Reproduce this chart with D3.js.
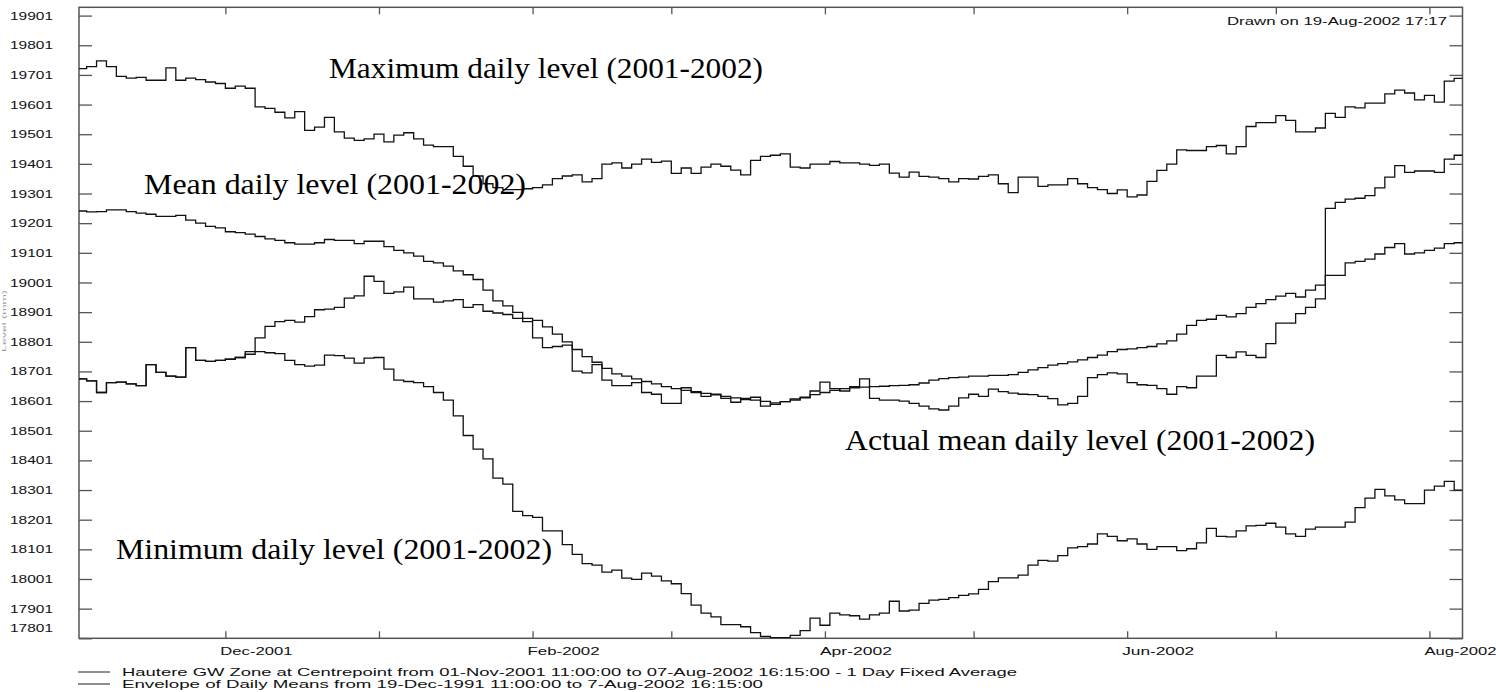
<!DOCTYPE html>
<html>
<head>
<meta charset="utf-8">
<script src="https://cdn.jsdelivr.net/npm/d3@7"></script>
<style>
  body { margin: 0; background: #fff; }
  svg { display: block; }
</style>
</head>
<body>
<div id="chart"></div>
<script>
// daily level readings, sampled every 2 days from 1-Nov-2001
const seriesStart = new Date(2001, 10, 1);
const stepDays = 2;

const maxLevel = [19722,19729,19748,19729,19696,19690,19693,19683,19683,19725,
  19683,19690,19685,19677,19672,19656,19663,19656,19593,19588,
  19575,19556,19577,19514,19525,19558,19509,19488,19480,19485,
  19501,19475,19498,19506,19485,19464,
  19459,19459,19426,19393,19360,19334,19321,19314,19314,19317,
  19321,19330,19351,19360,19364,19340,19351,19400,19404,19387,
  19400,19417,19406,19410,19369,19387,19369,19390,19400,19393,
  19380,19364,19413,19426,
  19430,19435,19390,19387,19400,19400,19409,19404,19404,19400,
  19396,19400,19370,19356,19373,19359,19356,19351,19340,19351,
  19350,19359,19364,19334,19304,19356,19356,19325,19330,19330,
  19351,19334,19321,19314,19301,
  19313,19290,19296,19342,19379,19400,19448,19446,19446,19459,
  19463,19435,19459,19527,19540,19540,19564,19548,19509,19509,
  19522,19571,19558,19593,19590,19606,19606,19637,19650,19640,
  19617,19632,19609,19680,19689];

const meanLevel = [19242,19239,19240,19246,19246,19240,19235,19231,19224,19224,
  19227,19211,19201,19190,19185,19172,19169,19164,19156,19148,
  19143,19135,19130,19130,19135,19146,19143,19143,19132,19140,
  19140,19122,19109,19101,19090,19072,
  19067,19056,19040,19027,19011,18975,18939,18922,18900,18880,
  18873,18851,18827,18801,18775,18751,18732,18711,18693,18685,
  18676,18667,18659,18650,18643,18637,18633,18627,18622,18617,
  18612,18606,18604,18600,
  18590,18599,18604,18614,18623,18630,18637,18643,18646,18648,
  18650,18651,18653,18654,18656,18662,18672,18677,18680,18682,
  18685,18685,18688,18688,18690,18698,18706,18714,18722,18727,
  18733,18740,18748,18756,18768,
  18775,18777,18781,18785,18794,18804,18827,18856,18873,18877,
  18890,18885,18896,18917,18930,18943,18955,18964,18952,18975,
  18992,19025,19025,19067,19072,19080,19097,19119,19132,19097,
  19101,19109,19117,19132,19135];

const actualLevel = [18676,18669,18630,18663,18665,18659,18653,18724,18698,18685,
  18682,18781,18738,18735,18738,18742,18748,18768,18814,18853,
  18869,18873,18867,18886,18909,18911,18917,18948,18956,19022,
  19005,18964,18969,18985,18946,18946,
  18935,18939,18943,18917,18926,18904,18898,18893,18880,18869,
  18814,18781,18785,18790,18702,18696,18724,18672,18653,18653,
  18663,18630,18624,18593,18593,18646,18630,18617,18624,18610,
  18597,18610,18614,18584,
  18595,18599,18608,18612,18635,18665,18643,18635,18650,18676,
  18610,18604,18604,18601,18593,18584,18575,18571,18584,18612,
  18624,18617,18641,18633,18628,18624,18623,18617,18609,18588,
  18593,18617,18680,18690,18696,
  18693,18663,18656,18654,18643,18624,18650,18646,18685,18685,
  18755,18748,18767,18755,18748,18795,18864,18864,18896,18917,
  18946,19251,19271,19282,19285,19294,19320,19356,19395,19372,
  19377,19377,19372,19417,19430];

const minLevel = [18676,18669,18630,18663,18665,18659,18653,18724,18698,18685,
  18682,18781,18738,18735,18738,18742,18748,18759,18768,18764,
  18761,18738,18724,18719,18722,18756,18754,18746,18729,18746,
  18748,18709,18672,18667,18663,18650,
  18630,18604,18551,18485,18439,18406,18341,18321,18229,18215,
  18209,18163,18163,18117,18084,18053,18048,18024,18031,18004,
  18000,18021,18011,17995,17985,17952,17913,17886,17873,17847,
  17847,17840,17820,17807,
  17803,17803,17811,17827,17869,17845,17886,17880,17877,17866,
  17880,17886,17926,17893,17896,17919,17930,17932,17938,17946,
  17951,17966,17992,18005,18005,18014,18048,18064,18061,18080,
  18106,18110,18119,18153,18145,
  18130,18136,18119,18101,18110,18110,18097,18103,18123,18172,
  18145,18143,18163,18180,18182,18189,18176,18153,18145,18169,
  18176,18176,18176,18193,18242,18274,18303,18281,18268,18255,
  18255,18301,18314,18330,18301];

const yTicks = [17801,17901,18001,18101,18201,18301,18401,18501,18601,18701,18801,
  18901,19001,19101,19201,19301,19401,19501,19601,19701,19801,19901];
const monthTicks = ["2001-12-01","2002-01-01","2002-02-01","2002-03-01","2002-04-01",
  "2002-05-01","2002-06-01","2002-07-01","2002-08-01"];
const monthLabels = ["Dec-2001","Feb-2002","Apr-2002","Jun-2002","Aug-2002"];

const annotations = [
  {text: "Maximum daily level (2001-2002)", x: 329, y: 78, w: 434},
  {text: "Mean daily level (2001-2002)", x: 144, y: 194, w: 382},
  {text: "Actual mean daily level (2001-2002)", x: 845, y: 450, w: 470},
  {text: "Minimum daily level (2001-2002)", x: 116, y: 559, w: 436}
];
const legendItems = [
  "Hautere GW Zone at Centrepoint from 01-Nov-2001 11:00:00 to 07-Aug-2002 16:15:00 - 1 Day Fixed Average",
  "Envelope of Daily Means from 19-Dec-1991 11:00:00 to  7-Aug-2002 16:15:00"
];
const legendWidths = [895, 641];

const W = 1496, H = 692;
const box = {left: 79, right: 1462.5, top: 7.3, bottom: 638.3};
const sansFont = "'Liberation Sans', Arial, sans-serif";
const axisColor = "#555";

const parseDay = d3.timeParse("%Y-%m-%d");
const x = d3.scaleTime()
  .domain([new Date(2001, 10, 1, 11), new Date(2002, 7, 7, 16, 15)])
  .range([box.left, box.right]);
const y = d3.scaleLinear()
  .domain([17801, 19929])
  .range([box.bottom, box.top]);

const svg = d3.select("#chart").append("svg")
  .attr("width", W)
  .attr("height", H);

svg.append("defs").append("clipPath").attr("id", "plotClip")
  .append("rect")
  .attr("x", box.left).attr("y", box.top)
  .attr("width", box.right - box.left).attr("height", box.bottom - box.top);

// axes: ticks point inward on all four sides
const leftAxis = svg.append("g")
  .attr("transform", `translate(${box.left},0)`)
  .call(d3.axisLeft(y).tickValues(yTicks).tickSize(-13).tickPadding(26).tickFormat(d3.format("d")));
svg.append("g")
  .attr("transform", `translate(${box.right},0)`)
  .call(d3.axisRight(y).tickValues(yTicks).tickSize(-13).tickFormat(""));
svg.append("g")
  .attr("transform", `translate(0,${box.bottom})`)
  .call(d3.axisBottom(x).tickValues(monthTicks.map(parseDay)).tickSize(-7).tickFormat(""));
svg.append("g")
  .attr("transform", `translate(0,${box.top})`)
  .call(d3.axisTop(x).tickValues(monthTicks.map(parseDay)).tickSize(-7).tickFormat(""));

svg.selectAll(".domain").remove();
svg.selectAll(".tick line").attr("stroke", axisColor).attr("stroke-width", 1.3);

leftAxis.selectAll("text")
  .attr("font-family", sansFont)
  .attr("font-size", 11)
  .attr("fill", "#111")
  .attr("textLength", 43)
  .attr("lengthAdjust", "spacingAndGlyphs")
  .attr("y", d => d === 17801 ? -10 : 0);

svg.append("rect")
  .attr("x", box.left).attr("y", box.top)
  .attr("width", box.right - box.left).attr("height", box.bottom - box.top)
  .attr("fill", "none")
  .attr("stroke", axisColor)
  .attr("stroke-width", 1.5);

// month labels, drawn from the left of every second month tick
svg.append("g").selectAll("text")
  .data(monthLabels)
  .enter().append("text")
  .attr("x", d => x(d3.timeParse("%b-%Y")(d)) - 5)
  .attr("y", 655)
  .attr("font-family", sansFont)
  .attr("font-size", 11)
  .attr("fill", "#111")
  .attr("textLength", 72)
  .attr("lengthAdjust", "spacingAndGlyphs")
  .text(d => d);

svg.append("text")
  .attr("x", 1447)
  .attr("y", 25)
  .attr("text-anchor", "end")
  .attr("font-family", sansFont)
  .attr("font-size", 11)
  .attr("fill", "#111")
  .attr("textLength", 220)
  .attr("lengthAdjust", "spacingAndGlyphs")
  .text("Drawn on 19-Aug-2002 17:17");

svg.append("text")
  .attr("transform", "translate(6,321) rotate(-90)")
  .attr("text-anchor", "middle")
  .attr("font-family", sansFont)
  .attr("font-size", 6)
  .attr("fill", "#999")
  .attr("textLength", 62)
  .attr("lengthAdjust", "spacingAndGlyphs")
  .text("Level (mm)");

// series
const toPoints = values => {
  const pts = values.map((v, i) => ({date: d3.timeDay.offset(seriesStart, i * stepDays), value: v}));
  pts.push({date: x.domain()[1], value: values[values.length - 1]});
  return pts;
};
const line = d3.line()
  .x(d => x(d.date))
  .y(d => y(d.value))
  .curve(d3.curveStepAfter);

const plot = svg.append("g").attr("clip-path", "url(#plotClip)");
[maxLevel, meanLevel, minLevel, actualLevel].forEach(values => {
  plot.append("path")
    .datum(toPoints(values))
    .attr("d", line)
    .attr("fill", "none")
    .attr("stroke", "#111")
    .attr("stroke-width", 1.3);
});

svg.append("g").selectAll("text")
  .data(annotations)
  .enter().append("text")
  .attr("x", d => d.x)
  .attr("y", d => d.y)
  .attr("font-family", "'Liberation Serif', 'Times New Roman', serif")
  .attr("font-size", 30)
  .attr("fill", "#000")
  .attr("textLength", d => d.w)
  .attr("lengthAdjust", "spacingAndGlyphs")
  .text(d => d.text);

// legend
const legend = svg.append("g").selectAll("g")
  .data(legendItems)
  .enter().append("g")
  .attr("transform", (d, i) => `translate(0,${672 + i * 12})`);
legend.append("line")
  .attr("x1", 78).attr("x2", 110)
  .attr("y1", 0).attr("y2", 0)
  .attr("stroke", "#444")
  .attr("stroke-width", 1.2);
legend.append("text")
  .attr("x", 122)
  .attr("y", 4)
  .attr("font-family", sansFont)
  .attr("font-size", 11)
  .attr("fill", "#111")
  .attr("textLength", (d, i) => legendWidths[i])
  .attr("lengthAdjust", "spacingAndGlyphs")
  .text(d => d);
</script>
</body>
</html>
